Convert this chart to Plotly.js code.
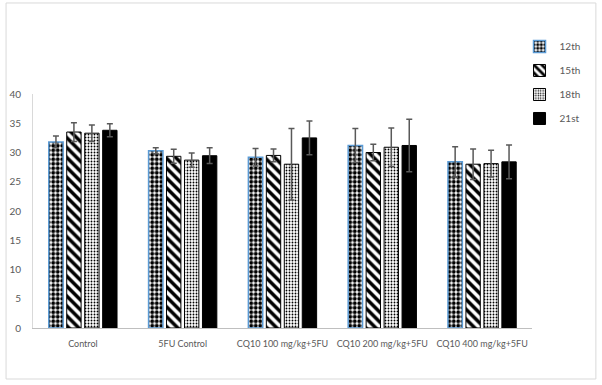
<!DOCTYPE html>
<html>
<head>
<meta charset="utf-8">
<script src="https://cdn.plot.ly/plotly-3.0.1.min.js"></script>
<style>html,body{margin:0;padding:0;background:#fff;}#chart{width:602px;height:385px;}</style>
</head>
<body>
<div id="chart"></div>
<script>
const categories = ["Control", "5FU Control", "CQ10 100 mg/kg+5FU", "CQ10 200 mg/kg+5FU", "CQ10 400 mg/kg+5FU"];
const seriesNames = ["12th", "15th", "18th", "21st"];
const values12 = [31.8, 30.3, 29.2, 31.2, 28.4];
const values15 = [33.5, 29.35, 29.5, 30.0, 28.0];
const values18 = [33.3, 28.7, 28.0, 30.9, 28.1];
const values21 = [33.8, 29.45, 32.5, 31.2, 28.4];
const err12 = [1.0, 0.5, 1.5, 2.9, 2.6];
const err15 = [1.6, 1.2, 1.1, 1.4, 2.6];
const err18 = [1.4, 1.2, 6.1, 3.3, 2.3];
const err21 = [1.1, 1.35, 2.9, 4.5, 2.9];

const vals = [values12, values15, values18, values21];
const errs = [err12, err15, err18, err21];
const patterns = [
  {shape: '.', fgcolor: '#000', bgcolor: '#fff', fgopacity: 1, size: 4.5, solidity: 0.6, fillmode: 'replace'},
  {shape: '\\', fgcolor: '#000', bgcolor: '#fff', fgopacity: 1, size: 7, solidity: 0.5, fillmode: 'replace'},
  {shape: '.', fgcolor: '#000', bgcolor: '#fff', fgopacity: 1, size: 3, solidity: 0.3, fillmode: 'replace'},
  {shape: '', fgcolor: '#000', bgcolor: '#000', size: 8, solidity: 0.5}
];
const lineColors = ['#5B9BD5', '#000', '#000', '#000'];
const lineWidths = [1.5, 1, 1, 1];

const traces = seriesNames.map((name, i) => ({
  type: 'bar',
  name: name,
  x: categories,
  y: vals[i],
  legendgroup: 'g' + i,
  marker: {
    color: i === 3 ? '#000' : '#fff',
    pattern: patterns[i],
    line: {color: lineColors[i], width: lineWidths[i]}
  },
  error_y: {type: 'data', array: errs[i], visible: true, color: '#595959', thickness: 1.5, width: 3}
}));

const layout = {
  width: 602, height: 385,
  margin: {l: 33, r: 70, t: 94, b: 57, autoexpand: false},
  paper_bgcolor: '#fff', plot_bgcolor: '#fff',
  barmode: 'group', bargap: 0.28, bargroupgap: 0.2,
  font: {family: 'Lato, "Open Sans", sans-serif', size: 9, color: '#595959'},
  xaxis: {
    type: 'category', showline: true, linecolor: '#bfbfbf', linewidth: 1,
    ticks: '', showgrid: false, zeroline: false, tickangle: 0,
    tickfont: {size: 9, color: '#595959'}, automargin: false, ticklabelstandoff: 7
  },
  yaxis: {
    range: [0, 40], dtick: 5, showline: true, linecolor: '#d9d9d9', linewidth: 1,
    ticks: '', showgrid: false, zeroline: false, automargin: false,
    tickfont: {size: 10, color: '#595959'}, ticklabelstandoff: 9
  },
  showlegend: true,
  legend: {
    x: 0.975, y: 1.265, xanchor: 'left', yanchor: 'top',
    traceorder: 'grouped', tracegroupgap: 5,
    font: {size: 10, color: '#595959'},
    itemwidth: 30, bgcolor: 'rgba(0,0,0,0)'
  },
  shapes: [{
    type: 'rect', xref: 'paper', yref: 'paper',
    x0: -0.054, x1: 1.128, y0: -0.218, y1: 1.389,
    line: {color: '#d9d9d9', width: 1}, fillcolor: 'rgba(0,0,0,0)', layer: 'below'
  }]
};

Plotly.newPlot('chart', traces, layout, {displayModeBar: false, staticPlot: true});
</script>
</body>
</html>
